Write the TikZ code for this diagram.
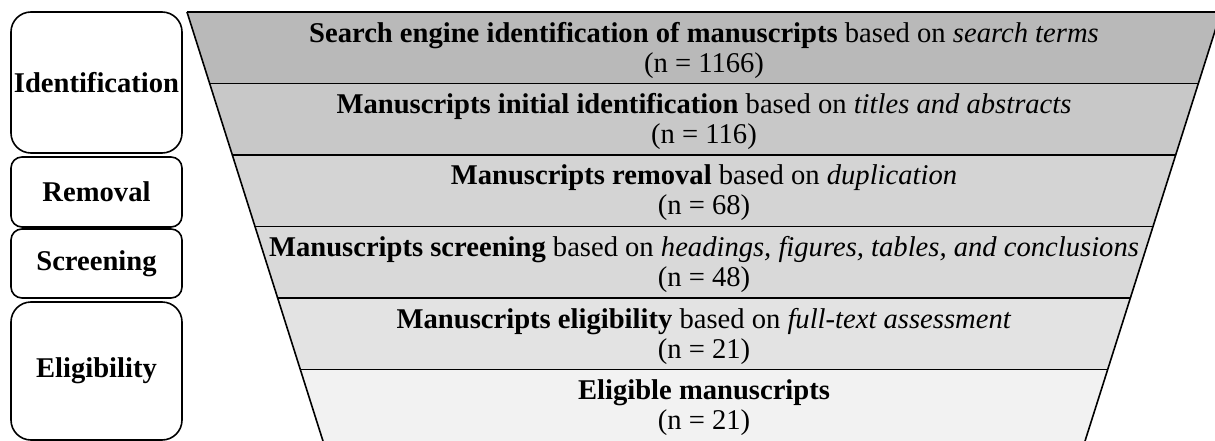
\documentclass[tikz,border=0pt]{standalone}
\usepackage{fontspec}
\setmainfont{Liberation Serif}
\definecolor{bandA}{gray}{0.725}
\definecolor{bandB}{gray}{0.785}
\definecolor{bandC}{gray}{0.83}
\definecolor{bandD}{gray}{0.85}
\definecolor{bandE}{gray}{0.89}
\definecolor{bandF}{gray}{0.95}
\begin{document}
\begin{tikzpicture}[x=1pt,y=-1pt,
  edgeline/.style={draw=black, line width=1.6pt},
  stagebox/.style={draw=black, line width=1.6pt, minimum width=171pt, inner sep=0pt,
     font=\bfseries\fontsize{28.6}{30}\selectfont},
  lbl/.style={font=\fontsize{28.6}{30}\selectfont, align=center, inner sep=0pt}]
\useasboundingbox (0,0) rectangle (1215,441);
\begin{scope}
\clip (0,0) rectangle (1215,441);
% bands
\fill[bandA] (187,12) -- (1221,12) -- (1198.3,83.5) -- (209.7,83.5) -- cycle;
\fill[bandB] (209.7,83.5) -- (1198.3,83.5) -- (1175.7,155) -- (232.3,155) -- cycle;
\fill[bandC] (232.3,155) -- (1175.7,155) -- (1153.0,226.5) -- (255.0,226.5) -- cycle;
\fill[bandD] (255.0,226.5) -- (1153.0,226.5) -- (1130.3,298) -- (277.7,298) -- cycle;
\fill[bandE] (277.7,298) -- (1130.3,298) -- (1107.7,369.5) -- (300.3,369.5) -- cycle;
\fill[bandF] (300.3,369.5) -- (1107.7,369.5) -- (1079.0,460) -- (329.0,460) -- cycle;
% separators
\draw[edgeline] (187,12) -- (1221,12);
\draw[edgeline] (209.7,83.5) -- (1198.3,83.5);
\draw[edgeline] (232.3,155) -- (1175.7,155);
\draw[edgeline] (255.0,226.5) -- (1153.0,226.5);
\draw[edgeline] (277.7,298) -- (1130.3,298);
\draw[edgeline] (300.3,369.5) -- (1107.7,369.5);
% funnel edges
\draw[edgeline] (187,12) -- (329.0,460);
\draw[edgeline] (1221,12) -- (1079.0,460);
\end{scope}
% band labels
\node[lbl] (t1) at (704,50) {\textbf{Search engine identification of manuscripts} based on \textit{search terms}\\(n = 1166)};
\node[lbl] (t2) at (704,121.5) {\textbf{Manuscripts initial identification} based on \textit{titles and abstracts}\\(n = 116)};
\node[lbl] (t3) at (704,193) {\textbf{Manuscripts removal} based on \textit{duplication}\\(n = 68)};
\node[lbl] (t4) at (704,264.5) {\textbf{Manuscripts screening} based on \textit{headings, figures, tables, and conclusions}\\(n = 48)};
\node[lbl] (t5) at (704,336) {\textbf{Manuscripts eligibility} based on \textit{full-text assessment}\\(n = 21)};
\node[lbl] (t6) at (704,408) {\textbf{Eligible manuscripts}\\(n = 21)};
% stage boxes
\node[stagebox, minimum height=141pt, rounded corners=20pt] (s1) at (96.5,82.5) {Identification};
\node[stagebox, minimum height=70pt, rounded corners=11pt] (s2) at (96.5,192) {Removal};
\node[stagebox, minimum height=69pt, rounded corners=11pt] (s3) at (96.5,263.5) {Screening};
\node[stagebox, minimum height=138pt, rounded corners=20pt] (s4) at (96.5,371) {Eligibility};
\end{tikzpicture}
\end{document}
